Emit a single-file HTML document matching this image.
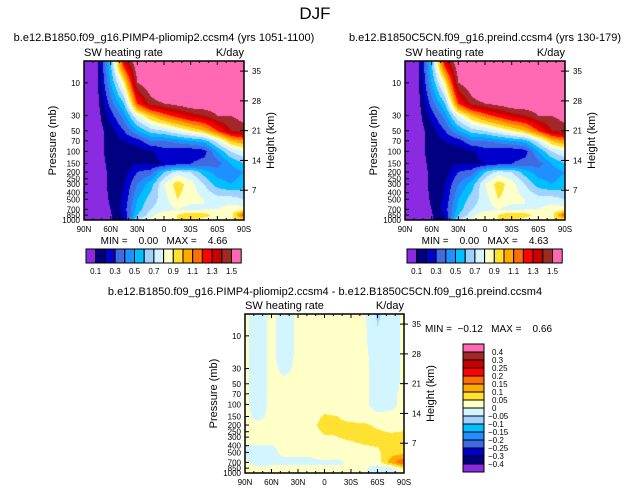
<!DOCTYPE html>
<html><head><meta charset="utf-8"><style>
body{margin:0;background:#fff;width:631px;height:493px;overflow:hidden;font-family:"Liberation Sans",sans-serif}
#root{position:relative;width:631px;height:493px}
canvas{position:absolute}
svg{position:absolute;left:0;top:0}
svg text{white-space:pre}
</style></head><body><div id="root">
<canvas id="c1" width="160" height="159" style="left:84px;top:61px"></canvas>
<canvas id="c2" width="160" height="159" style="left:405px;top:61px"></canvas>
<canvas id="c3" width="159" height="159" style="left:245px;top:314px"></canvas>
<svg id="s" width="631" height="493"></svg>
</div>
<script>
const lats=[90,75,60,45,30,15,0,-15,-30,-45,-60,-75,-90];
const pres=[5,10,20,30,50,70,100,150,200,300,500,700,850,1000];
const dataL=[
[0.05,0.05,0.05,0.05,0.05,0.05,0.05,0.05,0.05,0.05,0.05,0.05,0.05,0.05],
[0.09,0.08,0.06,0.05,0.05,0.05,0.05,0.05,0.05,0.05,0.05,0.05,0.05,0.05],
[0.6,0.5,0.35,0.25,0.15,0.15,0.15,0.13,0.12,0.12,0.11,0.1,0.09,0.09],
[1.3,0.9,0.6,0.45,0.3,0.2,0.15,0.15,0.15,0.2,0.22,0.25,0.2,0.18],
[1.6,1.5,1.2,0.8,0.5,0.25,0.15,0.2,0.3,0.4,0.5,0.55,0.6,0.7],
[1.7,1.6,1.45,1.0,0.65,0.4,0.18,0.18,0.35,0.55,0.65,0.7,0.75,0.85],
[1.7,1.7,1.5,1.15,0.7,0.4,0.25,0.2,0.6,0.8,0.75,0.75,0.9,0.85],
[1.7,1.7,1.55,1.25,0.8,0.45,0.22,0.25,0.75,0.95,0.9,0.8,0.9,0.9],
[1.7,1.7,1.6,1.35,0.9,0.5,0.22,0.3,0.7,0.85,0.85,0.75,1.0,0.9],
[1.7,1.7,1.6,1.4,1.0,0.55,0.25,0.35,0.55,0.7,0.8,0.8,0.95,0.85],
[1.7,1.7,1.6,1.5,1.2,0.75,0.5,0.35,0.45,0.55,0.75,0.8,0.85,0.85],
[1.7,1.7,1.6,1.5,1.4,1.0,0.7,0.5,0.45,0.5,0.75,0.85,0.85,0.9],
[1.7,1.7,1.6,1.55,1.45,1.1,0.8,0.6,0.5,0.55,0.7,0.85,1.2,0.9]];
const dataR=dataL.map(r=>r.slice());
const dataD=[
[0.01,0.01,0.01,0.01,0.01,0.01,0.01,0.01,0.01,0.01,-0.01,0.01,0.01,0.01],
[-0.02,-0.02,-0.02,-0.02,-0.02,-0.02,-0.02,-0.01,0.01,0.01,-0.01,-0.02,0.01,0.01],
[0.01,0.01,0.01,0.01,0.01,0.01,0.01,0.01,0.01,0.01,-0.01,-0.01,0.01,0.01],
[-0.02,-0.02,-0.02,-0.01,0.01,0.01,0.01,0.01,0.01,0.01,0.01,-0.01,0.01,0.01],
[0.01,0.01,0.01,0.01,0.01,0.01,0.01,0.01,0.01,0.01,0.01,-0.01,0.01,0.01],
[0.01,0.01,0.01,0.01,0.01,0.01,0.01,0.01,0.02,0.01,0.01,-0.01,0.01,0.01],
[0.01,0.01,0.01,0.01,0.01,0.01,0.01,0.06,0.09,0.04,0.04,-0.01,0.01,0.01],
[0.01,0.01,0.01,0.01,0.01,0.01,0.01,0.05,0.06,0.05,0.02,-0.01,0.01,0.01],
[0.01,0.01,0.01,0.01,0.01,0.01,0.01,0.03,0.06,0.06,0.02,0.01,0.01,0.01],
[0.01,0.01,0.01,0.01,0.01,0.01,0.01,0.02,0.06,0.07,0.03,0.01,0.01,0.01],
[-0.06,-0.04,-0.02,-0.02,-0.02,-0.02,-0.02,0.01,0.04,0.07,0.04,0.02,-0.02,-0.06],
[-0.02,-0.02,-0.02,-0.02,-0.02,-0.01,-0.01,0.01,0.03,0.06,0.08,0.12,-0.02,-0.03],
[0.01,0.01,0.01,0.01,0.01,0.01,0.01,0.01,0.03,0.07,0.08,0.2,0.06,0.02]];
const levelsAbs=[0.1,0.2,0.3,0.4,0.5,0.6,0.7,0.8,0.9,1.0,1.1,1.2,1.3,1.4,1.5];
const labelsAbs=["0.1","0.3","0.5","0.7","0.9","1.1","1.3","1.5"];
const levelsDiff=[-0.4,-0.3,-0.25,-0.2,-0.15,-0.1,-0.05,0,0.05,0.1,0.15,0.2,0.25,0.3,0.4];
const labelsDiff=["-0.4","-0.3","-0.25","-0.2","-0.15","-0.1","-0.05","0","0.05","0.1","0.15","0.2","0.25","0.3","0.4"];
const presTicks=[10,30,50,70,100,150,200,250,300,400,500,700,850,1000];
const htTicks=[35,28,21,14,7];
const latLabels=["90N","60N","30N","0","30S","60S","90S"];
const colors=["#8a2be2","#000080","#0000cd","#4169e1","#1e90ff","#00bfff","#a0d2ff","#d2f5ff","#ffffc8","#ffe132","#ffaa00","#ff6e00","#ff0000","#c80000","#a02828","#ff69b4"];
const H=159,PTOP=4.8,PBOT=1000;
function yOfP(p){return H*(Math.log10(p)-Math.log10(PTOP))/(Math.log10(PBOT)-Math.log10(PTOP));}
function xOfLat(lat,w){return (90-lat)/180*w;}
function hex(c){return [parseInt(c.substr(1,2),16),parseInt(c.substr(3,2),16),parseInt(c.substr(5,2),16)];}
function sample(d,lat,lp){
 let i=Math.min(lats.length-2,Math.max(0,Math.floor((90-lat)/15)));
 let fx=((90-lat)-i*15)/15;
 const lps=pres.map(Math.log10);
 let j=0;while(j<lps.length-2&&lp>lps[j+1])j++;
 let fy=(lp-lps[j])/(lps[j+1]-lps[j]);fy=Math.max(0,Math.min(1,fy));
 const a=d[i][j],b=d[i+1][j],c=d[i][j+1],e=d[i+1][j+1];
 return (a*(1-fx)+b*fx)*(1-fy)+(c*(1-fx)+e*fx)*fy;
}
function paint(id,d,lev,w){
 const cv=document.getElementById(id),ctx=cv.getContext('2d');
 const img=ctx.createImageData(w,H);const rgb=colors.map(hex);
 for(let y=0;y<H;y++){const lp=Math.log10(PTOP)+(y+0.5)/H*(Math.log10(PBOT)-Math.log10(PTOP));
  for(let x=0;x<w;x++){const lat=90-(x+0.5)/w*180;const v=sample(d,lat,lp);
   let k=0;while(k<lev.length&&v>=lev[k])k++;const c=rgb[k];const o=(y*w+x)*4;
   img.data[o]=c[0];img.data[o+1]=c[1];img.data[o+2]=c[2];img.data[o+3]=255;}}
 ctx.putImageData(img,0,0);
}
paint('c1',dataL,levelsAbs,160);paint('c2',dataR,levelsAbs,160);paint('c3',dataD,levelsDiff,159);
const S=document.getElementById('s');const NS="http://www.w3.org/2000/svg";
function el(t,a,txt){const e=document.createElementNS(NS,t);for(const k in a)e.setAttribute(k,a[k]);if(txt!=null)e.textContent=txt;S.appendChild(e);return e;}
function txt(x,y,s,size,anchor,name){const e=el('text',{x:x,y:y,'font-size':size,'text-anchor':anchor||'start','font-family':'Liberation Sans, sans-serif',fill:'#000'},s);
 
 return e;}
function frame(ox,oy,w,name){
 const r=el('rect',{x:ox,y:oy,width:w,height:H,fill:'none',stroke:'#000','stroke-width':1.5});
 
 
 for(let lat=90;lat>=-90;lat-=10){const x=ox+xOfLat(lat,w);const major=lat%30===0;const L=major?4:2;
  el('line',{x1:x,y1:oy+H,x2:x,y2:oy+H-L,stroke:'#000','stroke-width':1});
  el('line',{x1:x,y1:oy,x2:x,y2:oy+L,stroke:'#000','stroke-width':1});}
 latLabels.forEach((s,i)=>{txt(ox+i*w/6,oy+H+12,s,8,'middle',name+'-x-label');});
 presTicks.forEach(p=>{const y=oy+yOfP(p);el('line',{x1:ox,y1:y,x2:ox+4,y2:y,stroke:'#000'});
  txt(ox-4,y+3,String(p),8,'end',name+'-y-label');});
 htTicks.forEach(h=>{const p=1000*Math.exp(-h/7);const y=oy+yOfP(p);el('line',{x1:ox+w,y1:y,x2:ox+w+4,y2:y,stroke:'#000'});
  el('line',{x1:ox+w,y1:y,x2:ox+w-4,y2:y,stroke:'#000'});
  txt(ox+w+8,y+3,String(h),8,'start',name+'-height-label');});
 txt(ox,oy-5,'SW heating rate',11,'start',name+'-subtitle');
 txt(ox+w,oy-5,'K/day',11,'end',name+'-units');
 let t=txt(0,0,'Pressure (mb)',11,'middle',name+'-y-axis-title');t.setAttribute('transform',`translate(${ox-28},${oy+H/2}) rotate(-90)`);
 t=txt(0,0,'Height (km)',11,'middle',name+'-y2-axis-title');t.setAttribute('transform',`translate(${ox+w+30},${oy+H/2}) rotate(-90)`);
}
frame(84,61,160,'left');frame(405,61,160,'right');frame(245,314,159,'diff');
txt(315,19,'DJF',17,'middle','main-title');
txt(164,41,'b.e12.B1850.f09_g16.PIMP4-pliomip2.ccsm4 (yrs 1051-1100)',11,'middle','left-title');
txt(485,41,'b.e12.B1850C5CN.f09_g16.preind.ccsm4 (yrs 130-179)',11,'middle','right-title');
txt(325,295,'b.e12.B1850.f09_g16.PIMP4-pliomip2.ccsm4 - b.e12.B1850C5CN.f09_g16.preind.ccsm4',11,'middle','diff-title');
txt(164,244,'MIN =    0.00   MAX =    4.66',10,'middle','left-minmax');
txt(485,244,'MIN =    0.00   MAX =    4.63',10,'middle','right-minmax');
txt(425,332,'MIN =  \u22120.12   MAX =    0.66',10,'start','diff-minmax');
function hbar(ox,name){const bw=9.7;colors.forEach((c,i)=>{const r=el('rect',{x:ox+i*bw,y:249,width:bw,height:14,fill:c,stroke:'#000','stroke-width':1});
 
 });
 labelsAbs.forEach((s,i)=>txt(ox+(1+2*i)*bw,274,s,8,'middle',name+'-label'));}
hbar(86,'left-colorbar');hbar(407,'right-colorbar');
for(let i=0;i<16;i++){const r=el('rect',{x:463,y:344+i*8,width:21,height:8,fill:colors[15-i],stroke:'#000','stroke-width':1});
 
 }
labelsDiff.slice().reverse().forEach((s,i)=>txt(s.startsWith('-')?488:492,355+i*8,s.replace('-','\u2212'),8,'start','diff-colorbar-label'));
</script></body></html>
